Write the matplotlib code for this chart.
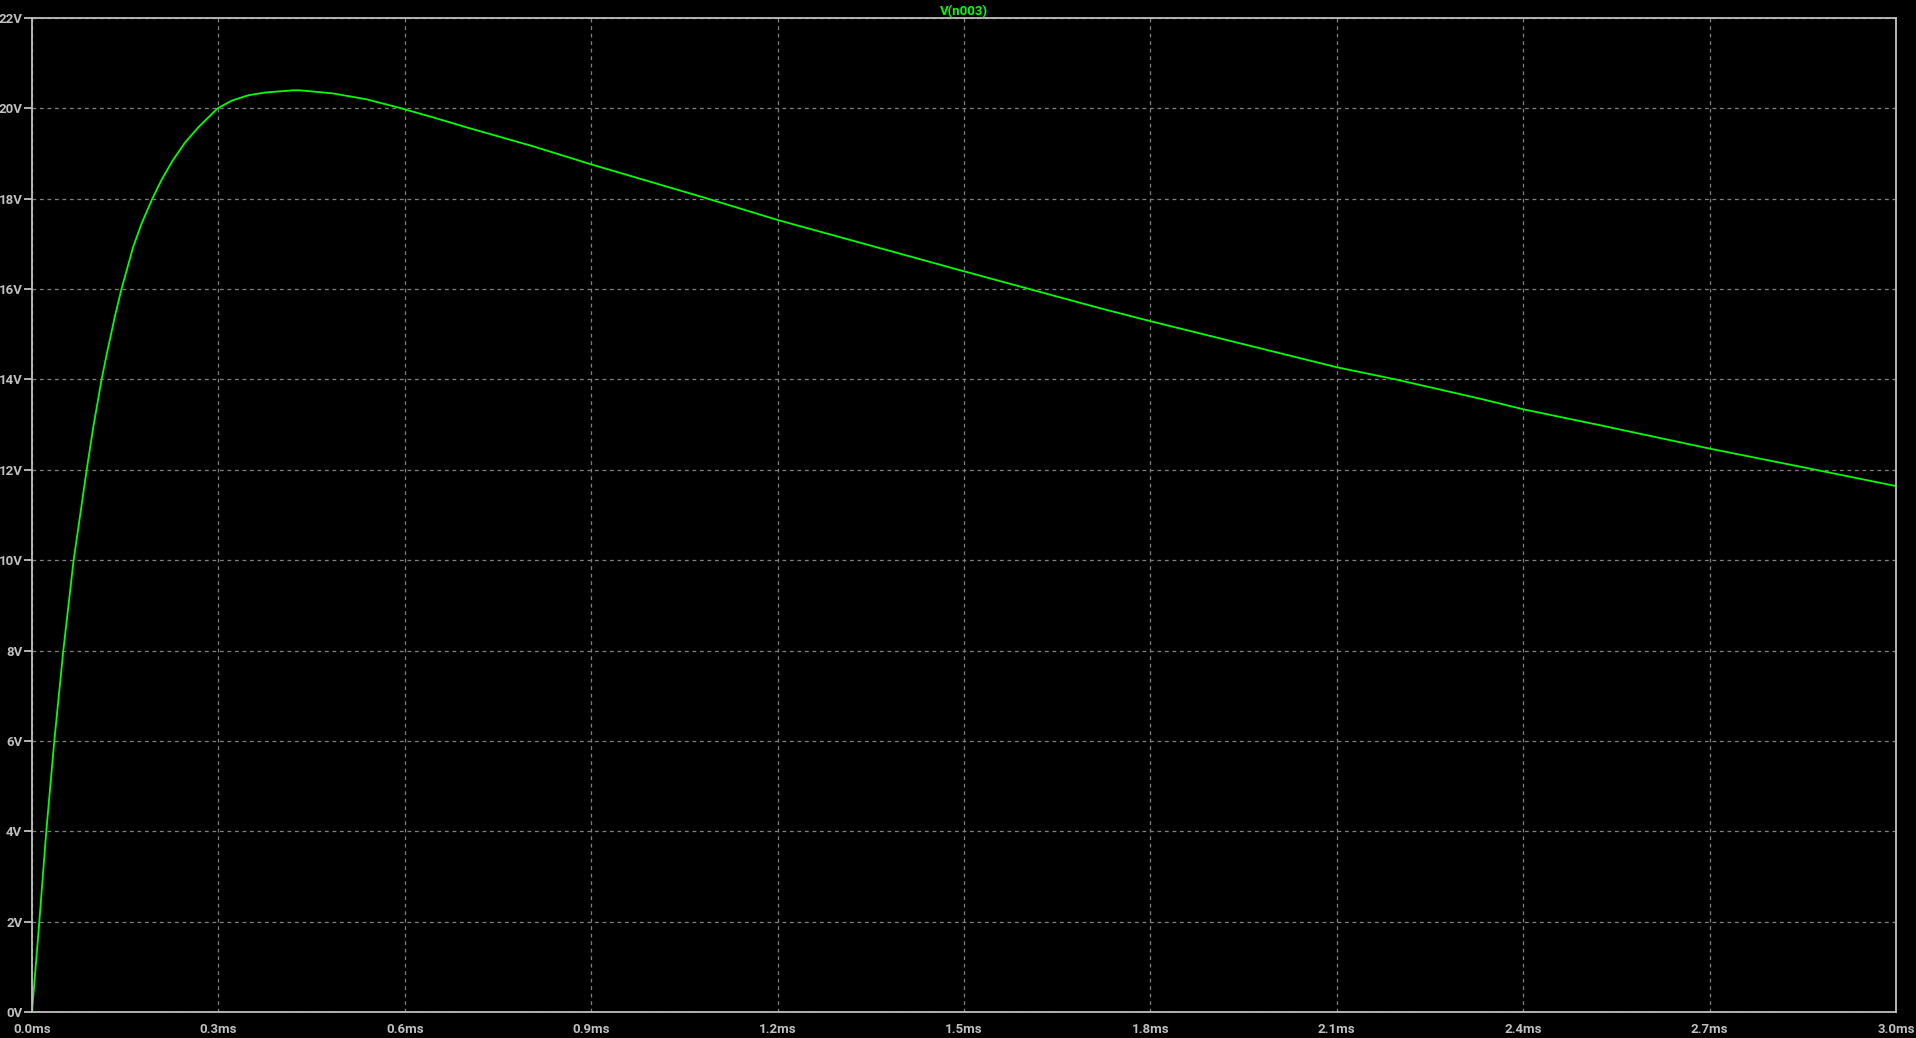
import matplotlib
matplotlib.use("Agg")
import matplotlib.pyplot as plt

# V(n003) transient, values
t_ms = [0, 0.0118, 0.023, 0.0359, 0.0504, 0.067, 0.081, 0.088, 0.0987, 0.112,
        0.1201, 0.1335, 0.144, 0.163, 0.1764, 0.1936, 0.2086, 0.2257, 0.2461, 0.2676,
        0.2987, 0.3212, 0.348, 0.375, 0.42, 0.4311, 0.4847, 0.5384, 0.592, 0.6456,
        0.6993, 0.7529, 0.8065, 0.9, 1.088, 1.2, 1.493, 1.718, 1.8, 2.1,
        2.195, 2.335, 2.4, 2.5225, 2.7, 2.871, 3.0]
v_n003 = [0, 2, 4, 6, 8, 10, 11.33, 12, 12.95, 14,
          14.55, 15.4, 16, 16.94, 17.45, 18, 18.42, 18.83, 19.24, 19.58,
          20, 20.17, 20.29, 20.35, 20.40, 20.40, 20.33, 20.20, 20.01, 19.80,
          19.58, 19.37, 19.16, 18.76, 18, 17.53, 16.42, 15.58, 15.29, 14.27,
          14.0, 13.56, 13.34, 12.99, 12.47, 12.0, 11.64]

x_ticks = [0.3 * i for i in range(11)]
x_labels = [f"{x:.1f}ms" for x in x_ticks]
y_ticks = list(range(0, 23, 2))
y_labels = [f"{y}V" for y in y_ticks]

fg = "#c0c0c0"
grid_col = "#808080"
plt.rcParams["font.family"] = ["Roboto", "DejaVu Sans"]

fig = plt.figure(figsize=(19.16, 10.38), dpi=100, facecolor="black")
ax = fig.add_axes([32 / 1916, 1 - 1012 / 1038, (1896 - 32) / 1916, (1012 - 18) / 1038])
ax.set_facecolor("black")

ax.plot(t_ms, v_n003, color="#00ff00", lw=1.3)

ax.set_xlim(0, 3.0)
ax.set_ylim(0, 22)
ax.set_xticks(x_ticks)
ax.set_xticklabels(x_labels)
ax.set_yticks(y_ticks)
ax.set_yticklabels(y_labels)

ax.grid(True, color=grid_col, linestyle=(0, (3, 3)), linewidth=0.9)
for s in ax.spines.values():
    s.set_color(fg)
    s.set_linewidth(1.3)

ax.tick_params(axis="y", colors=fg, length=6, width=1.3, pad=1, labelsize=9.5)
ax.tick_params(axis="x", colors=fg, length=0, pad=8, labelsize=9.5)
for lab in ax.get_xticklabels() + ax.get_yticklabels():
    lab.set_fontweight("bold")

ax.set_title("V(n003)", color="#00ff00", fontsize=9.5, fontweight="bold", pad=2)

fig.savefig("out.png", dpi=100, facecolor="black")
